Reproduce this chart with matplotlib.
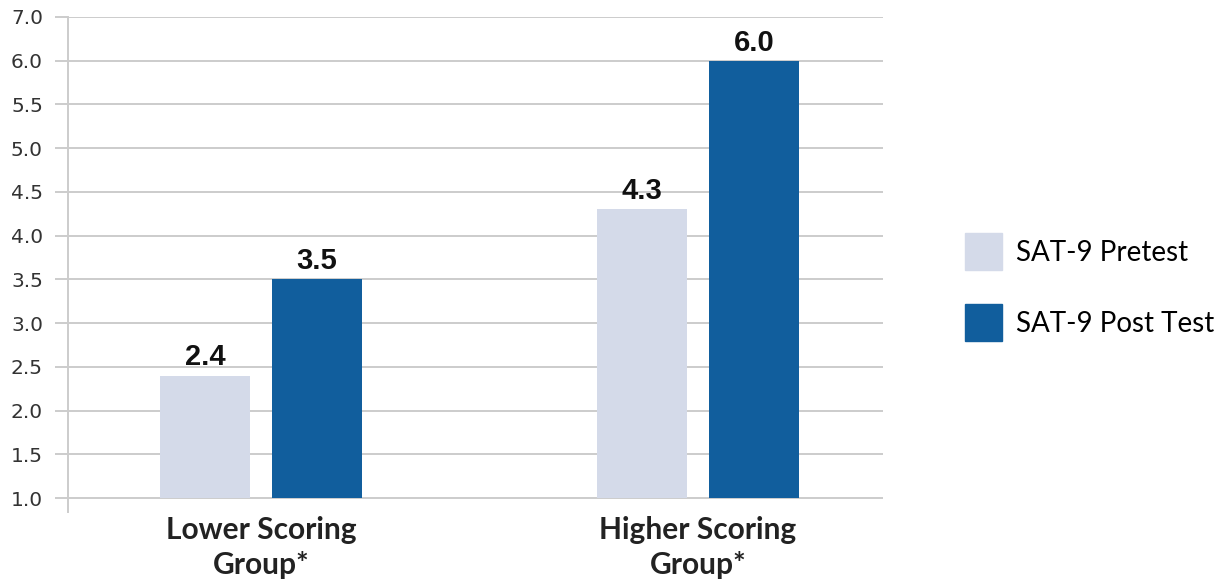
import numpy as np
import matplotlib.pyplot as plt
from matplotlib.patches import Patch

# SAT-9 scores by group, pretest vs post test
groups = ["Lower Scoring\nGroup*", "Higher Scoring\nGroup*"]
pretest = [2.4, 4.3]
posttest = [3.5, 6.0]
series_names = ["SAT-9 Pretest", "SAT-9 Post Test"]

y_ticks = [1.0, 1.5, 2.0, 2.5, 3.0, 3.5, 4.0, 4.5, 5.0, 5.5, 6.0, 6.5]
y_labels = ["1.0", "1.5", "2.0", "2.5", "3.0", "3.5", "4.0", "4.5", "5.0", "5.5", "6.0", "7.0"]

PRE_COLOR = "#d4dae9"
POST_COLOR = "#115e9d"
GRID_COLOR = "#cccccc"

fig = plt.figure(figsize=(12.27, 5.82), dpi=100)
ax = fig.add_axes([68 / 1227, 1 - 512 / 582, 815 / 1227, (512 - 17) / 582])

x = np.arange(len(groups))
width = 0.206
offset = 0.128
base = 1.0

pre_bars = ax.bar(x - offset, np.array(pretest) - base, width, bottom=base,
                  color=PRE_COLOR, zorder=3)
post_bars = ax.bar(x + offset, np.array(posttest) - base, width, bottom=base,
                   color=POST_COLOR, zorder=3)

# value labels on top of each bar
for bars, vals in [(pre_bars, pretest), (post_bars, posttest)]:
    for b, v in zip(bars, vals):
        ax.annotate(f"{v:.1f}", (b.get_x() + b.get_width() / 2, v),
                    xytext=(0, 3), textcoords="offset points",
                    ha="center", va="bottom", fontsize=21, fontweight="bold",
                    family="Liberation Sans", color="#111111")

ax.set_xlim(-0.4417, 1.4233)
ax.set_ylim(0.84, 6.5)

ax.set_yticks(y_ticks)
ax.set_yticklabels(y_labels, fontsize=14.5, family="DejaVu Sans", color="#333333")
ax.tick_params(axis="y", length=9.4, width=1.4, color=GRID_COLOR, pad=8.6)

ax.set_xticks(x)
ax.set_xticklabels(groups, fontsize=21.5, fontweight="bold", family="Lato",
                   color="#222222", linespacing=1.29)
ax.tick_params(axis="x", length=0, pad=3)

ax.grid(axis="y", color=GRID_COLOR, linewidth=1.4, zorder=0)
for s in ["top", "right", "bottom"]:
    ax.spines[s].set_visible(False)
ax.spines["left"].set_color(GRID_COLOR)
ax.spines["left"].set_linewidth(1.4)

handles = [Patch(color=PRE_COLOR), Patch(color=POST_COLOR)]
fig.legend(handles, series_names, loc="upper left",
           bbox_to_anchor=(957 / 1227, 1 - 225 / 582), frameon=False,
           prop={"family": "Lato", "size": 20},
           handlelength=1.33, handleheight=1.67, handletextpad=0.5,
           labelspacing=1.22, borderaxespad=0, borderpad=0.3)

fig.savefig("out.png", dpi=100)
